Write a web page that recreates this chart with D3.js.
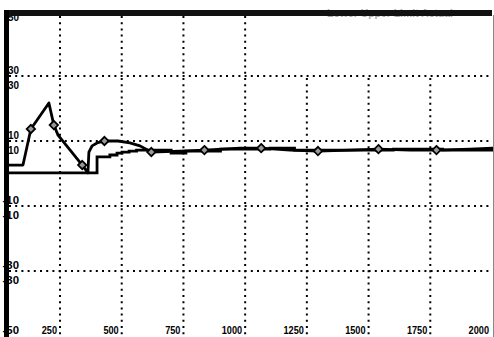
<!DOCTYPE html>
<html><head><meta charset="utf-8">
<script src="https://cdn.jsdelivr.net/npm/d3@7"></script>
<style>body{margin:0;background:#fff}svg{display:block}</style>
</head><body>
<script>
// ---- data ----
const xTicks = [250, 500, 750, 1000, 1250, 1500, 1750, 2000];
const xTickLabels = ["250", "500", "750", "1000", "1250", "1500", "1750", "2000"];
const yTicks = [50, 30, 10, -10, -30, -50];
const yTickLabels = ["50", "30", "10", "-10", "-30", "-50"];
const legendText = "- - -  Lower  Upper  Limit  Actual";
// series 1: response with diamond markers
const s1x = [0, 100, 132, 205, 225, 242, 340, 363, 367, 380, 400, 430, 485, 533, 574, 620, 736, 835, 979, 1065, 1182, 1295, 1425, 1540, 1668, 1775, 1911, 2010];
const s1y = [2.6, 2.6, 13.7, 21.7, 14.9, 11.8, 2.6, 0.2, 6.6, 8.5, 9.4, 10, 10, 9.4, 8.5, 6.6, 6.9, 7.2, 7.8, 7.8, 7.2, 6.9, 7.2, 7.5, 7.2, 7.2, 7.5, 7.8];
const markerX = [132, 225, 340, 430, 620, 835, 1065, 1295, 1540, 1775];
const markerY = [13.7, 14.9, 2.6, 10, 6.6, 7.2, 7.8, 6.9, 7.5, 7.2];
// series 2: step setpoint
const s2x = [0, 400, 452, 481, 501, 530, 560, 620, 700, 760, 900, 1100, 1200, 1400, 1600, 1800, 2010];
const s2y = [0.2, 5.1, 5.7, 6.3, 6.6, 6.9, 7.2, 7.2, 6.3, 6.9, 7.5, 7.8, 7.2, 7.2, 7.5, 7.2, 7.8];

const W = 494, H = 337;
const svg = d3.select("body").append("svg").attr("width", W).attr("height", H);
const x = d3.scaleLinear().domain([0, 2000]).range([-1.7, 492]);
const y = d3.scaleLinear().domain([-50, 50]).range([336, 11]);

const pL = 9, pT = 16, pR = 493;
svg.append("defs").append("clipPath").attr("id", "plot")
  .append("rect").attr("x", pL).attr("y", pT).attr("width", pR - pL).attr("height", H - pT);

const font = "Liberation Sans, Arial, sans-serif";
const dots = "2,4.2";

// vertical grid
const grid = svg.append("g").attr("clip-path", "url(#plot)");
grid.selectAll("line.v").data(xTicks.filter(d => d < 2000)).join("line").attr("class", "v")
  .attr("x1", d => x(d)).attr("x2", d => x(d)).attr("y1", pT).attr("y2", H)
  .attr("stroke", "#000").attr("stroke-width", 2).attr("stroke-dasharray", dots);
// horizontal grid
grid.selectAll("line.h").data(yTicks.filter(d => Math.abs(d) < 50)).join("line").attr("class", "h")
  .attr("y1", d => y(d)).attr("y2", d => y(d)).attr("x1", pL).attr("x2", pR - 2)
  .attr("stroke", "#000").attr("stroke-width", 2).attr("stroke-dasharray", dots);

// legend box (covers grid), its text mostly hidden under the top frame
svg.append("rect").attr("x", 285).attr("y", pT).attr("width", pR - 285).attr("height", y(30) - pT - 1.5).attr("fill", "#fff");
svg.append("text").attr("x", 308).attr("y", 16.8).attr("font-family", font).attr("font-size", 10)
  .attr("font-weight", "bold").attr("fill", "#aaa").attr("textLength", 145).attr("lengthAdjust", "spacingAndGlyphs")
  .text(legendText);

// y labels (doubled: one above, one below each grid line)
const ylab = svg.append("g").attr("font-family", font).attr("font-size", 11).attr("font-weight", "bold")
  .attr("text-anchor", "end").attr("fill", "#000");
yTicks.forEach((t, i) => {
  const lab = yTickLabels[i];
  const offs = t === 50 ? [9.5] : (t === -50 ? [-2.5] : [-2.5, 12.5]);
  offs.forEach(off => {
    ylab.append("text").attr("x", 19).attr("y", y(t) + off)
      .attr("textLength", lab.length * 5.5).attr("lengthAdjust", "spacingAndGlyphs").text(lab);
  });
});

// x labels
svg.append("g").attr("font-family", font).attr("font-size", 11).attr("font-weight", "bold")
  .attr("text-anchor", "end")
  .selectAll("text").data(xTicks).join("text")
  .attr("x", d => x(d) - 3).attr("y", 333.5)
  .attr("textLength", (d, i) => xTickLabels[i].length * 5.1).attr("lengthAdjust", "spacingAndGlyphs")
  .text((d, i) => xTickLabels[i]);

// series
const plot = svg.append("g").attr("clip-path", "url(#plot)");
const line2 = d3.line().x(d => x(d[0])).y(d => y(d[1])).curve(d3.curveStepAfter);
plot.append("path").datum(s2x.map((v, i) => [v, s2y[i]]))
  .attr("d", line2).attr("fill", "none").attr("stroke", "#000").attr("stroke-width", 2.8);
const line1 = d3.line().x(d => x(d[0])).y(d => y(d[1]));
plot.append("path").datum(s1x.map((v, i) => [v, s1y[i]]))
  .attr("d", line1).attr("fill", "none").attr("stroke", "#000").attr("stroke-width", 2.8).attr("stroke-linejoin", "round");
plot.selectAll("path.m").data(markerX.map((v, i) => [v, markerY[i]])).join("path").attr("class", "m")
  .attr("d", d3.symbol(d3.symbolDiamond2, 45))
  .attr("transform", d => `translate(${x(d[0])},${y(d[1])})`)
  .attr("fill", "#999").attr("stroke", "#000").attr("stroke-width", 1.8);

// frame
svg.append("rect").attr("x", 4).attr("y", 10).attr("width", 488).attr("height", 6).attr("fill", "#111");
svg.append("rect").attr("x", 4).attr("y", 10).attr("width", 5).attr("height", H - 10).attr("fill", "#000");
svg.append("line").attr("x1", 493.5).attr("x2", 493.5).attr("y1", 15).attr("y2", H)
  .attr("stroke", "#888").attr("stroke-width", 1);
</script>
</body></html>
